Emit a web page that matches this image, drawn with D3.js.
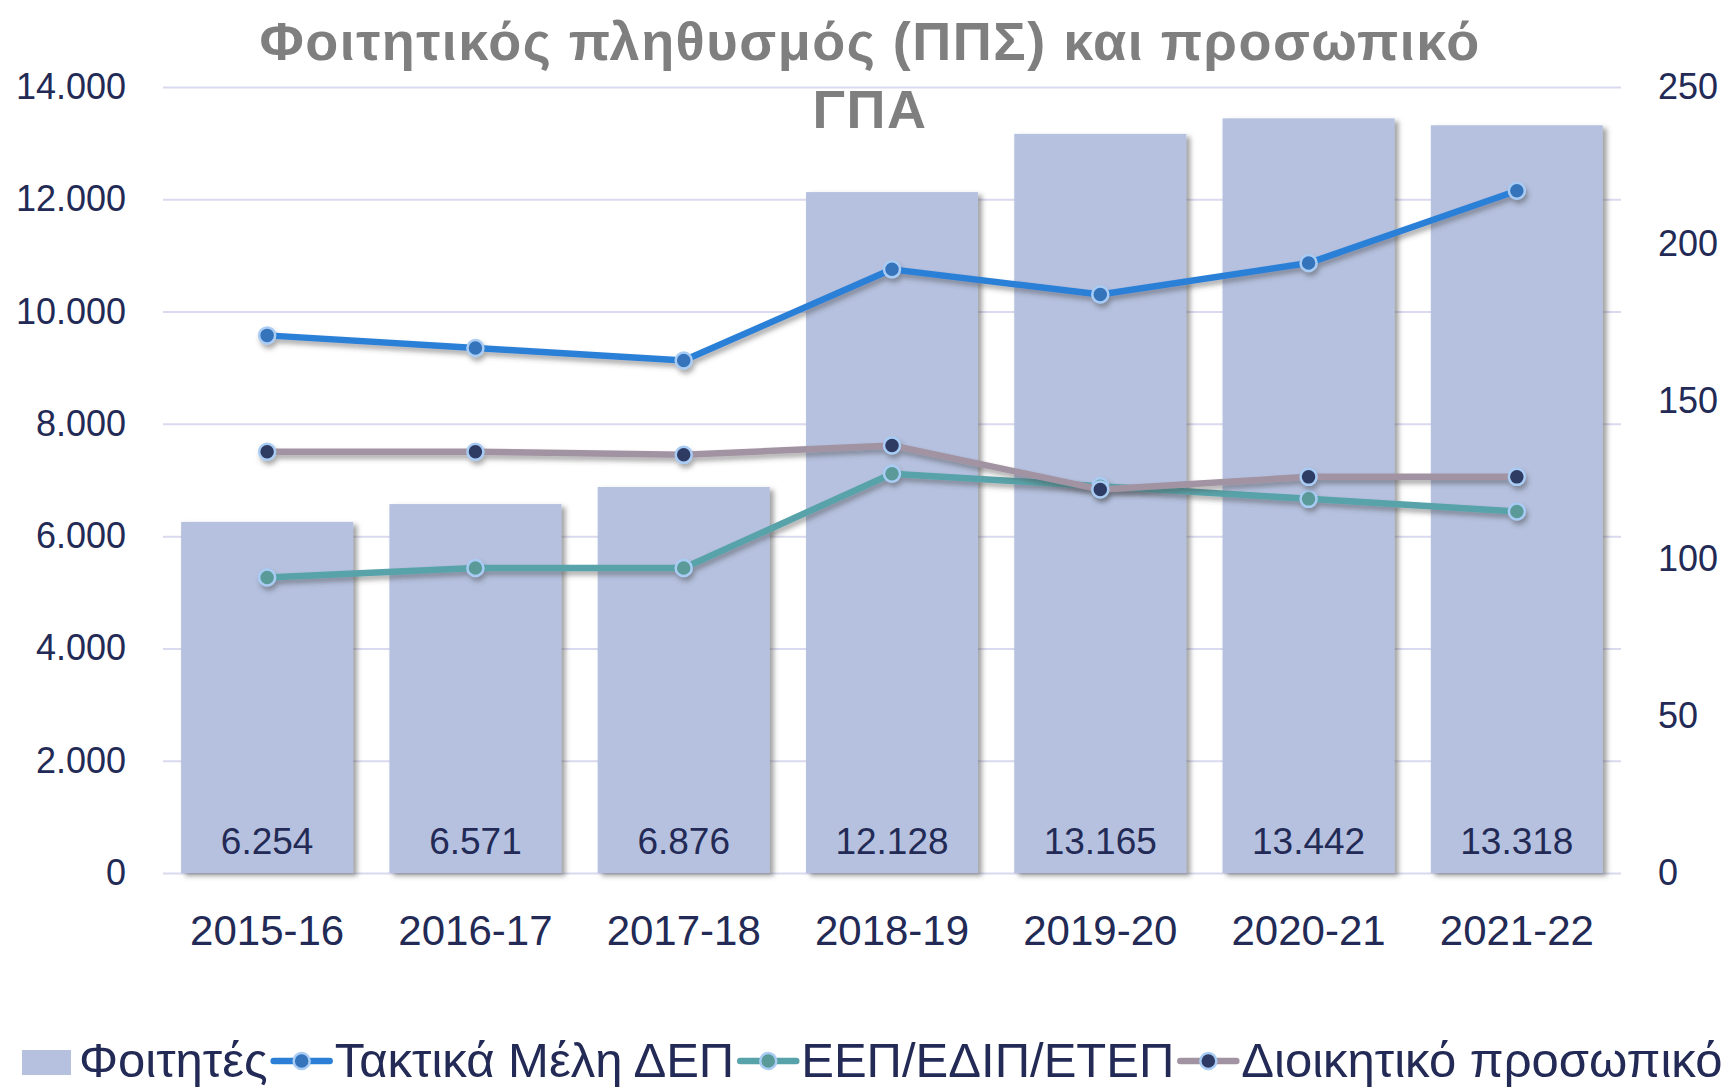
<!DOCTYPE html>
<html lang="el">
<head>
    <meta charset="UTF-8">
    <title>Φοιτητικός πληθυσμός (ΠΠΣ) και προσωπικό ΓΠΑ</title>
    <script src="https://cdn.jsdelivr.net/npm/d3@7"></script>
    <style>
        body, html {
            margin: 0;
            padding: 0;
            background: #fff;
            overflow: hidden;
        }
        svg {
            display: block;
            font-family: "Liberation Sans", Arial, sans-serif;
        }
    </style>
</head>
<body>
    <svg id="mainsvg"></svg>
    <script>
        // data
        const years = ["2015-16", "2016-17", "2017-18", "2018-19", "2019-20", "2020-21", "2021-22"];
        const students = [6254, 6571, 6876, 12128, 13165, 13442, 13318];
        const dep = [171, 167, 163, 192, 184, 194, 217];
        const eep = [94, 97, 97, 127, 123, 119, 115];
        const admin = [134, 134, 133, 136, 122, 126, 126];
        const leftTicks = [0, 2000, 4000, 6000, 8000, 10000, 12000, 14000];
        const rightTicks = [0, 50, 100, 150, 200, 250];

        const width = 1724, height = 1091;
        const margin = {top: 87, right: 103, bottom: 218, left: 163};
        const innerW = width - margin.left - margin.right;
        const innerH = height - margin.top - margin.bottom;

        const navy = "#222a55";
        const lines = [
            {name: "Τακτικά Μέλη ΔΕΠ", values: dep, color: "#2b7fd7", dot: "#3573bb"},
            {name: "ΕΕΠ/ΕΔΙΠ/ΕΤΕΠ", values: eep, color: "#58a3a9", dot: "#5a9a98"},
            {name: "Διοικητικό προσωπικό", values: admin, color: "#a293a3", dot: "#2d3a64"}
        ];

        const locale = d3.formatLocale({decimal: ",", thousands: ".", grouping: [3], currency: ["", "€"]});
        const fmt = locale.format(",d");

        const svg = d3.select("#mainsvg")
            .attr("width", width)
            .attr("height", height)
            .attr("viewBox", `0 0 ${width} ${height}`);

        // drop shadows, like the office chart
        const defs = svg.append("defs");
        const sh = defs.append("filter").attr("id", "shadow")
            .attr("x", "-10%").attr("y", "-10%").attr("width", "130%").attr("height", "130%");
        sh.append("feDropShadow").attr("dx", 4).attr("dy", 3).attr("stdDeviation", 2.5)
            .attr("flood-color", "#555").attr("flood-opacity", 0.55);
        const shl = defs.append("filter").attr("id", "lshadow")
            .attr("x", "-5%").attr("y", "-50%").attr("width", "110%").attr("height", "200%");
        shl.append("feDropShadow").attr("dx", 2).attr("dy", 4).attr("stdDeviation", 2.5)
            .attr("flood-color", "#444").attr("flood-opacity", 0.45);

        const g = svg.append("g").attr("transform", `translate(${margin.left},${margin.top})`);

        const x = d3.scaleBand().domain(years).range([0, innerW]).paddingInner(0.174).paddingOuter(0.087);
        const y = d3.scaleLinear().domain([0, 14000]).range([innerH, 0]);
        const y2 = d3.scaleLinear().domain([0, 250]).range([innerH, 0]);

        // gridlines + left axis
        const gy = g.append("g")
            .call(d3.axisLeft(y).tickValues(leftTicks).tickFormat(fmt).tickSize(-innerW).tickPadding(37));
        gy.select(".domain").remove();
        gy.selectAll(".tick line").attr("stroke", "#d9d9ef").attr("stroke-width", 2);
        gy.selectAll(".tick text").attr("fill", navy).attr("font-size", 36);

        // right axis
        const gy2 = g.append("g").attr("transform", `translate(${innerW},0)`)
            .call(d3.axisRight(y2).tickValues(rightTicks).tickSize(0).tickPadding(37));
        gy2.select(".domain").remove();
        gy2.selectAll(".tick text").attr("fill", navy).attr("font-size", 36);

        // bars
        g.append("g").selectAll("rect")
            .data(students)
            .join("rect")
            .attr("x", (d, i) => x(years[i]))
            .attr("y", d => y(d))
            .attr("width", x.bandwidth())
            .attr("height", d => innerH - y(d))
            .attr("fill", "#b5c1df")
            .attr("filter", "url(#shadow)");

        // bar labels at the base
        g.append("g").selectAll("text")
            .data(students)
            .join("text")
            .attr("x", (d, i) => x(years[i]) + x.bandwidth() / 2)
            .attr("y", innerH - 19)
            .attr("text-anchor", "middle")
            .attr("fill", navy)
            .attr("font-size", 37)
            .text(d => fmt(d));

        // category axis
        const gx = g.append("g").attr("transform", `translate(0,${innerH})`)
            .call(d3.axisBottom(x).tickSize(0).tickPadding(42));
        gx.select(".domain").remove();
        gx.selectAll(".tick text").attr("fill", navy).attr("font-size", 42);

        // lines
        const cx = i => x(years[i]) + x.bandwidth() / 2;
        const lineGen = d3.line().x((d, i) => cx(i)).y(d => y2(d));
        lines.forEach(s => {
            const lg = g.append("g").attr("filter", "url(#lshadow)");
            lg.append("path")
                .datum(s.values)
                .attr("d", lineGen)
                .attr("fill", "none")
                .attr("stroke", s.color)
                .attr("stroke-width", 6.5)
                .attr("stroke-linejoin", "round");
            lg.selectAll("circle")
                .data(s.values)
                .join("circle")
                .attr("cx", (d, i) => cx(i))
                .attr("cy", d => y2(d))
                .attr("r", 8)
                .attr("fill", s.dot)
                .attr("stroke", "#a9ccf4")
                .attr("stroke-width", 2.5);
        });

        // title
        const title = svg.append("text")
            .attr("x", 870)
            .attr("text-anchor", "middle")
            .attr("fill", "#7f7f7f")
            .attr("font-weight", "bold")
            .attr("font-size", 54)
            .attr("letter-spacing", 1.5);
        title.append("tspan").attr("x", 870).attr("y", 60).text("Φοιτητικός πληθυσμός (ΠΠΣ) και προσωπικό");
        title.append("tspan").attr("x", 870).attr("y", 128).text("ΓΠΑ");

        // legend
        const legend = svg.append("g").attr("transform", "translate(22,1077)");
        let lx = 0;
        legend.append("rect").attr("x", lx).attr("y", -27).attr("width", 49).attr("height", 25).attr("fill", "#b5c1df");
        lx += 57;
        let t = legend.append("text").attr("x", lx).attr("y", 0).attr("fill", navy).attr("font-size", 49).text("Φοιτητές");
        lx += t.node().getComputedTextLength() + 6;
        lines.forEach(s => {
            legend.append("line").attr("x1", lx).attr("x2", lx + 56).attr("y1", -16).attr("y2", -16)
                .attr("stroke", s.color).attr("stroke-width", 6.5).attr("stroke-linecap", "round");
            legend.append("circle").attr("cx", lx + 28).attr("cy", -16).attr("r", 8)
                .attr("fill", s.dot).attr("stroke", "#a9ccf4").attr("stroke-width", 2.5);
            lx += 61;
            t = legend.append("text").attr("x", lx).attr("y", 0).attr("fill", navy).attr("font-size", 49).text(s.name);
            lx += t.node().getComputedTextLength() + 6;
        });
    </script>
</body>
</html>
